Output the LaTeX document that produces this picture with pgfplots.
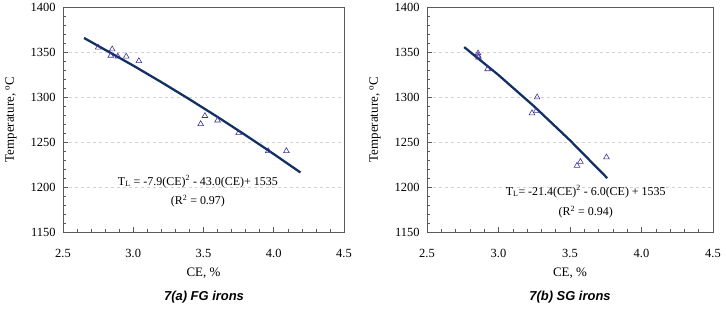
\documentclass[border=0pt]{standalone}
\usepackage{pgfplots}
\pgfplotsset{compat=1.18}
\usepackage{fontspec}
\setmainfont{Liberation Serif}
\newfontfamily\arialfont{Liberation Sans}
\definecolor{fitline}{RGB}{18,48,98}
\definecolor{mk}{RGB}{60,50,160}
\definecolor{frame}{RGB}{90,90,90}
\begin{document}
\begin{tikzpicture}
\useasboundingbox (0,0) rectangle (726bp,309bp);
\pgfplotsset{
  every axis/.append style={
    scale only axis, height=225bp,
    ymin=1150, ymax=1400, xmin=2.5, xmax=4.5,
    ytick={1150,1200,...,1400}, minor y tick num=4,
    xtick={2.5,3.0,...,4.5}, minor x tick num=4,
    tick align=inside, xtick pos=bottom, ytick pos=left,
    major tick length=5bp, minor tick length=3bp,
    axis line style={frame, line width=0.9pt},
    every tick/.style={frame, line width=0.6pt},
    ymajorgrids, major grid style={dashed, gray!35, line width=0.5pt},
    /pgf/number format/assume math mode=true,
    ticklabel style={font=\fontsize{12.5}{15}\selectfont},
    xticklabel style={yshift=-14bp, /pgf/number format/.cd, fixed, fixed zerofill, precision=1},
    yticklabel style={xshift=-4bp, /pgf/number format/.cd, fixed, precision=0, 1000 sep={}},
    label style={font=\fontsize{13}{15}\selectfont},
    xlabel={CE, \%},
    ylabel={Temperature, \textsuperscript{o}C},
    xlabel style={at={(axis description cs:0.5,0)}, anchor=center, yshift=-41bp},
    clip=false,
  }
}
\begin{axis}[at={(63bp,77bp)}, anchor=south west, width=281bp,
  ylabel style={at={(axis description cs:-0.185,0.5)}, anchor=center}]
\addplot[fitline, line width=2.3pt] coordinates {
(2.65,1365.57) (3.0,1334.9) (3.2,1316.5) (3.4,1297.48) (3.6,1277.82) (3.8,1257.52) (4.0,1236.6) (4.19,1216.14)};
\addplot[only marks, mark=triangle, mark size=3.3pt, mark options={mk, line width=0.6pt}] coordinates {
(2.75,1355) (2.85,1353) (2.84,1346) (2.89,1345) (2.95,1345) (3.04,1340)
(3.48,1270) (3.51,1279) (3.60,1274) (3.75,1260) (3.96,1240) (4.09,1240)};
\node[font=\fontsize{12}{14}\selectfont] at (axis cs:3.46,1206) {T\textsubscript{L} = -7.9(CE)\textsuperscript{2} - 43.0(CE)+ 1535};
\node[font=\fontsize{12}{14}\selectfont] at (axis cs:3.46,1184) {(R\textsuperscript{2} = 0.97)};
\end{axis}
\begin{axis}[at={(427bp,77bp)}, anchor=south west, width=286bp,
  ylabel style={at={(axis description cs:-0.182,0.5)}, anchor=center}]
\addplot[fitline, line width=2.3pt] coordinates {
(2.76,1355.42) (3.0,1324.4) (3.25,1289.46) (3.5,1251.85) (3.76,1209.9)};
\addplot[only marks, mark=triangle, mark size=3.3pt, mark options={mk, line width=0.6pt}] coordinates {
(2.857,1348.6) (2.857,1346) (2.86,1344) (2.924,1331) (3.27,1299.7) (3.234,1282) (3.265,1284.8)
(3.549,1223.7) (3.573,1228) (3.755,1233)};
\node[font=\fontsize{12}{14}\selectfont] at (axis cs:3.61,1195) {T\textsubscript{L}= -21.4(CE)\textsuperscript{2} - 6.0(CE) + 1535};
\node[font=\fontsize{12}{14}\selectfont] at (axis cs:3.61,1172) {(R\textsuperscript{2} = 0.94)};
\end{axis}
\node[font=\arialfont\bfseries\itshape\fontsize{13}{15}\selectfont] at (204bp,12bp) {7(a) FG irons};
\node[font=\arialfont\bfseries\itshape\fontsize{13}{15}\selectfont] at (570bp,12bp) {7(b) SG irons};
\end{tikzpicture}
\end{document}
